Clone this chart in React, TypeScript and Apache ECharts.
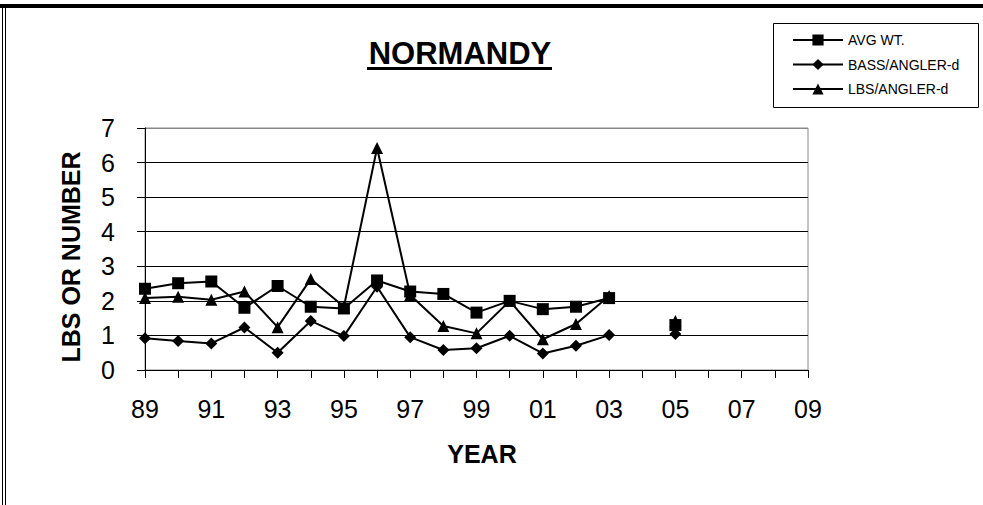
import React, { useEffect, useRef } from "react";
import * as echarts from "echarts";

const years = ["89","90","91","92","93","94","95","96","97","98","99","00","01","02","03","04","05","06","07","08","09"];
const avgWt = [2.35, 2.51, 2.56, 1.8, 2.43, 1.83, 1.78, 2.59, 2.27, 2.2, 1.66, 2.0, 1.76, 1.83, 2.08, null, 1.3, null, null, null, null];
const bassPerAngler = [0.92, 0.84, 0.77, 1.23, 0.5, 1.42, 0.98, 2.41, 0.95, 0.58, 0.63, 0.99, 0.48, 0.7, 1.01, null, 1.04, null, null, null, null];
const lbsPerAngler = [2.08, 2.12, 2.03, 2.27, 1.24, 2.63, 1.83, 6.42, 2.17, 1.27, 1.06, 2.0, 0.89, 1.33, 2.14, null, 1.42, null, null, null, null];
const seriesNames = ["AVG WT.", "BASS/ANGLER-d", "LBS/ANGLER-d"];

const FONT = "'Liberation Sans', Arial, sans-serif";

export default function App() {
  const ref = useRef<HTMLDivElement>(null);
  useEffect(() => {
    if (!ref.current) return;
    const chart = echarts.init(ref.current, undefined, { renderer: "svg" });
    const lineStyle = { color: "#000", width: 2 };
    chart.setOption({
      animation: false,
      backgroundColor: "#fff",
      textStyle: { fontFamily: FONT },
      grid: { left: 145, right: 175, top: 128, bottom: 135, show: true, borderColor: "#888", borderWidth: 1 },
      legend: {
        data: seriesNames,
        orient: "vertical",
        left: 792,
        top: 33,
        itemWidth: 50,
        itemHeight: 14,
        itemGap: 10.5,
        padding: 0,
        textStyle: { fontSize: 14, color: "#000", fontFamily: FONT },
        inactiveColor: "#000",
      },
      xAxis: {
        type: "category",
        data: years,
        boundaryGap: false,
        name: "YEAR",
        nameLocation: "middle",
        nameGap: 71,
        nameTextStyle: { fontSize: 25, fontWeight: "bold", color: "#000", fontFamily: FONT, padding: [0, 0, 0, 11] },
        axisLine: { lineStyle: { color: "#000", width: 1 } },
        axisTick: { show: true, interval: 0, length: 8, lineStyle: { color: "#000" } },
        axisLabel: { interval: 1, fontSize: 25, color: "#000", margin: 26, fontFamily: FONT },
        splitLine: { show: false },
      },
      yAxis: {
        type: "value",
        min: 0,
        max: 7,
        interval: 1,
        name: "LBS OR NUMBER",
        nameLocation: "middle",
        nameGap: 62,
        nameRotate: 90,
        nameTextStyle: { fontSize: 25, fontWeight: "bold", color: "#000", fontFamily: FONT, padding: [0, 16, 0, 0] },
        axisLine: { show: true, lineStyle: { color: "#000", width: 1 } },
        axisTick: { show: true, length: 8, lineStyle: { color: "#000" } },
        axisLabel: { fontSize: 25, color: "#000", margin: 30, fontFamily: FONT },
        splitLine: { show: true, lineStyle: { color: ["#000", "#000", "#000", "#000", "#000", "#000", "#000", "#888"], width: 1 } },
      },
      series: [
        {
          name: seriesNames[2], type: "line", data: lbsPerAngler, symbol: "triangle", symbolSize: 12,
          itemStyle: { color: "#000" }, lineStyle, z: 2, connectNulls: false,
        },
        {
          name: seriesNames[1], type: "line", data: bassPerAngler, symbol: "diamond", symbolSize: 12,
          itemStyle: { color: "#000" }, lineStyle, z: 3, connectNulls: false,
        },
        {
          name: seriesNames[0], type: "line", data: avgWt, symbol: "rect", symbolSize: 12,
          itemStyle: { color: "#000" }, lineStyle, z: 4, connectNulls: false,
        },
      ],
      graphic: [
        { type: "rect", shape: { x: 0, y: 4, width: 983, height: 4 }, style: { fill: "#000" }, silent: true },
        { type: "line", shape: { x1: 2.5, y1: 4, x2: 2.5, y2: 505 }, style: { stroke: "#000", lineWidth: 1 }, silent: true },
        { type: "line", shape: { x1: 5.5, y1: 4, x2: 5.5, y2: 505 }, style: { stroke: "#000", lineWidth: 1 }, silent: true },
        {
          type: "text", x: 460, y: 53,
          style: { text: "NORMANDY", font: `bold 31px ${FONT}`, fill: "#000", align: "center", verticalAlign: "middle" },
        },
        { type: "rect", shape: { x: 367, y: 67, width: 185, height: 3 }, style: { fill: "#000" }, silent: true },
        { type: "rect", shape: { x: 773.5, y: 23.5, width: 205, height: 84 }, style: { fill: "none", stroke: "#000", lineWidth: 1 }, silent: true },
      ],
    });
    return () => chart.dispose();
  }, []);
  return (
    <div
      ref={ref}
      style={{ position: "fixed", left: 0, top: 0, width: 983, height: 505, background: "#fff" }}
    />
  );
}
